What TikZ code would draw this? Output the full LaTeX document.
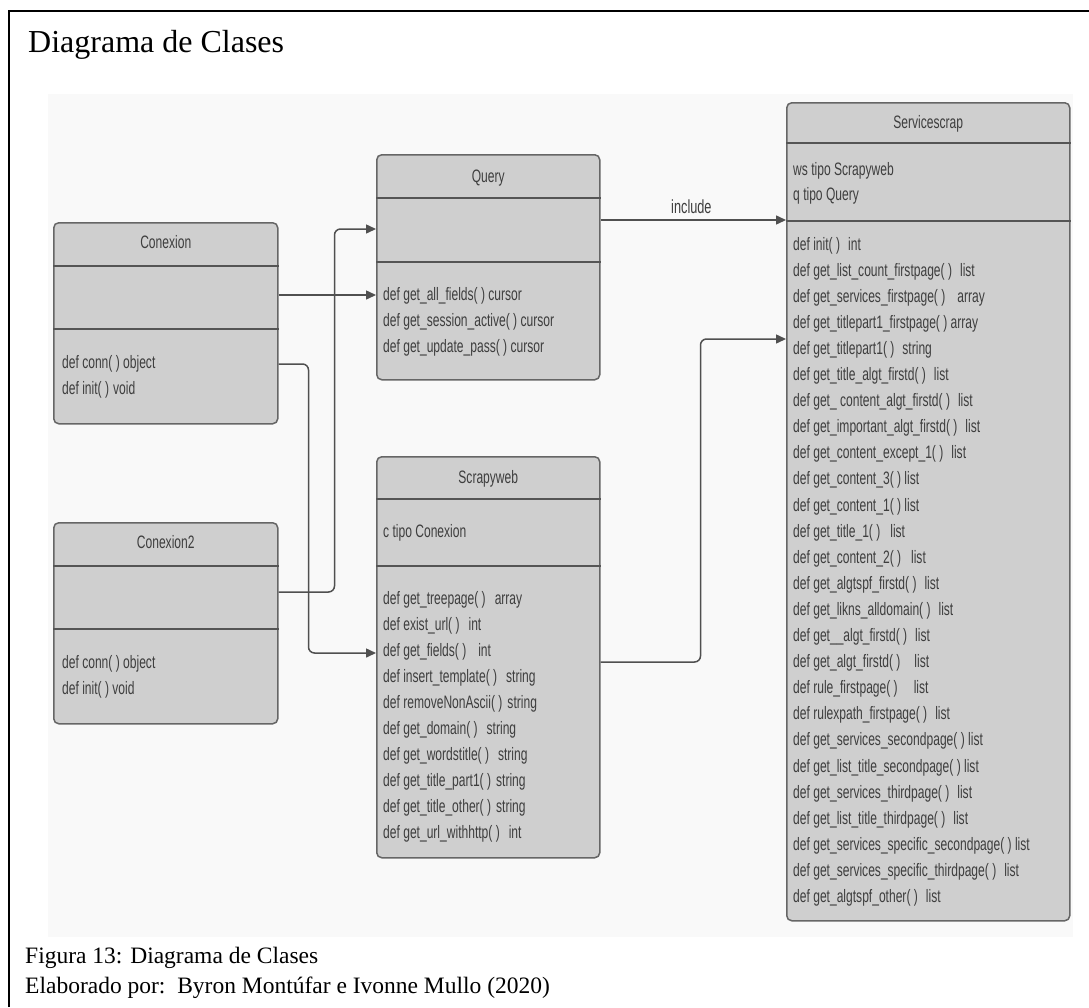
\documentclass[tikz,border=0pt]{standalone}
\usepackage{fontspec}
\setmainfont{Liberation Serif}
\newfontfamily\umlfont[FakeStretch=0.67]{Liberation Sans}
\usetikzlibrary{arrows.meta,calc}

\definecolor{boxfill}{HTML}{CFCFCF}
\definecolor{boxline}{HTML}{666666}
\definecolor{sepcol}{HTML}{555555}
\definecolor{txtcol}{HTML}{3E3E3E}
\definecolor{linkcol}{HTML}{505050}
\definecolor{panel}{HTML}{F9F9F9}

\newcommand\hg[1]{\hspace*{#1pt}}

\tikzset{
  classbox/.style={draw=boxline, fill=boxfill, line width=1.5pt, rounded corners=5pt,
    inner sep=0pt, anchor=north west},
  sepline/.style={draw=sepcol, line width=2pt},
  umlline/.style={font=\umlfont\fontsize{18}{22}\selectfont, text=txtcol, inner sep=0pt, anchor=base west},
  umltitle/.style={font=\umlfont\fontsize{18}{22}\selectfont, text=txtcol, inner sep=0pt, anchor=base},
  link/.style={draw=linkcol, line width=1.5pt, rounded corners=6pt,
    -{Triangle[length=10pt,width=9pt]}},
  linklabel/.style={font=\umlfont\fontsize{19}{22}\selectfont, text=txtcol, inner sep=0pt, anchor=base},
}

\begin{document}
\begin{tikzpicture}[x=1pt,y=-1pt]
\useasboundingbox (0,0) rectangle (1089,1007);

% page frame (open to the right and bottom)
\draw[line width=2pt] (9,1007) -- (9,10.5) -- (1089,10.5);
\node[anchor=base west, inner sep=0pt, font=\fontsize{32}{36}\selectfont] (heading) at (28,52) {Diagrama de Clases};

% diagram canvas
\fill[panel] (48,94) rectangle (1073,937);

% ---------- Conexion ----------
\node[classbox, minimum width=224, minimum height=201] (conexion) at (53,222) {};
\draw[sepline] ($(conexion.north west)+(0,44)$) -- ($(conexion.north east)+(0,44)$);
\draw[sepline] ($(conexion.north west)+(0,107)$) -- ($(conexion.north east)+(0,107)$);
\node[umltitle] (conexionT) at ($(conexion.north)+(0,26)$) {Conexion};
\node[umlline] (conexionM1) at ($(conexion.north west)+(9,146)$) {def conn( ) object};
\node[umlline] (conexionM2) at ($(conexion.north west)+(9,172)$) {def init( )\hg{4}void};

% ---------- Conexion2 ----------
\node[classbox, minimum width=224, minimum height=201] (conexiontwo) at (53,522) {};
\draw[sepline] ($(conexiontwo.north west)+(0,44)$) -- ($(conexiontwo.north east)+(0,44)$);
\draw[sepline] ($(conexiontwo.north west)+(0,107)$) -- ($(conexiontwo.north east)+(0,107)$);
\node[umltitle] (conexiontwoT) at ($(conexiontwo.north)+(0,26)$) {Conexion2};
\node[umlline] (conexiontwoM1) at ($(conexiontwo.north west)+(9,146)$) {def conn( ) object};
\node[umlline] (conexiontwoM2) at ($(conexiontwo.north west)+(9,172)$) {def init( ) void};

% ---------- Query ----------
\node[classbox, minimum width=223, minimum height=225] (query) at (376,154) {};
\draw[sepline] ($(query.north west)+(0,44)$) -- ($(query.north east)+(0,44)$);
\draw[sepline] ($(query.north west)+(0,108)$) -- ($(query.north east)+(0,108)$);
\node[umltitle] (queryT) at ($(query.north)+(0,28)$) {Query};
\foreach \t [count=\i from 0] in {
  def get\_all\_fields( ) cursor,
  def get\_session\_active( ) cursor,
  def get\_update\_pass( ) cursor}
  \node[umlline] (queryM\i) at ($(query.north west)+(7,146+26*\i)$) {\t};

% ---------- Scrapyweb ----------
\node[classbox, minimum width=223, minimum height=401] (scrapy) at (376,456) {};
\draw[sepline] ($(scrapy.north west)+(0,43)$) -- ($(scrapy.north east)+(0,43)$);
\draw[sepline] ($(scrapy.north west)+(0,110)$) -- ($(scrapy.north east)+(0,110)$);
\node[umltitle] (scrapyT) at ($(scrapy.north)+(0,27)$) {Scrapyweb};
\node[umlline] (scrapyA) at ($(scrapy.north west)+(7,81)$) {c tipo Conexion};
\foreach \t [count=\i from 0] in {
  def get\_treepage( )\hg{9}array,
  def exist\_url( )\hg{9}int,
  def get\_fields( )\hg{12}int,
  def insert\_template( )\hg{9}string,
  def removeNonAscii( )\hg{5}string,
  def get\_domain( )\hg{9}string,
  def get\_wordstitle( )\hg{9}string,
  def get\_title\_part1( )\hg{5}string,
  def get\_title\_other( )\hg{5}string,
  def get\_url\_withhttp( )\hg{9}int}
  \node[umlline] (scrapyM\i) at ($(scrapy.north west)+(7,148+26.1*\i)$) {\t};

% ---------- Servicescrap ----------
\node[classbox, minimum width=283, minimum height=818] (serv) at (786,102) {};
\draw[sepline] ($(serv.north west)+(0,41)$) -- ($(serv.north east)+(0,41)$);
\draw[sepline] ($(serv.north west)+(0,119)$) -- ($(serv.north east)+(0,119)$);
\node[umltitle] (servT) at ($(serv.north)+(0,26)$) {Servicescrap};
\node[umlline] (servA1) at ($(serv.north west)+(7,73)$) {ws tipo Scrapyweb};
\node[umlline] (servA2) at ($(serv.north west)+(7,98)$) {q tipo Query};
\foreach \t [count=\i from 0] in {
  def init( )\hg{8}int,
  def get\_list\_count\_firstpage( )\hg{8}list,
  def get\_services\_firstpage( )\hg{12}array,
  def get\_titlepart1\_firstpage( ) array,
  def get\_titlepart1( )\hg{8}string,
  def get\_title\_algt\_firstd( )\hg{8}list,
  def get\_ content\_algt\_firstd( )\hg{8}list,
  def get\_important\_algt\_firstd( )\hg{8}list,
  def get\_content\_except\_1( )\hg{8}list,
  def get\_content\_3( ) list,
  def get\_content\_1( ) list,
  def get\_title\_1( )\hg{10}list,
  def get\_content\_2( )\hg{10}list,
  def get\_algtspf\_firstd( )\hg{8}list,
  def get\_likns\_alldomain( )\hg{8}list,
  def get\_\_algt\_firstd( )\hg{8}list,
  def get\_algt\_firstd( )\hg{14}list,
  def rule\_firstpage( )\hg{16}list,
  def rulexpath\_firstpage( )\hg{8}list,
  def get\_services\_secondpage( ) list,
  def get\_list\_title\_secondpage( ) list,
  def get\_services\_thirdpage( )\hg{8}list,
  def get\_list\_title\_thirdpage( )\hg{8}list,
  def get\_services\_specific\_secondpage( ) list,
  def get\_services\_specific\_thirdpage( )\hg{8}list,
  def get\_algtspf\_other( )\hg{8}list}
  \node[umlline] (servM\i) at ($(serv.north west)+(7,148+26.1*\i)$) {\t};

% ---------- connection ports ----------
\coordinate (conexionOutA) at ($(conexion.north east)+(0,73)$);
\coordinate (conexionOutB) at ($(conexion.north east)+(0,142)$);
\coordinate (conexiontwoOut) at ($(conexiontwo.north east)+(0,70)$);
\coordinate (queryInA) at ($(query.north west)+(0,75)$);
\coordinate (queryOut) at ($(query.north east)+(0,66)$);
\coordinate (scrapyIn) at ($(scrapy.north west)+(0,197)$);
\coordinate (scrapyOut) at ($(scrapy.north east)+(0,206)$);
\coordinate (servInA) at ($(serv.north west)+(0,118)$);
\coordinate (servInB) at ($(serv.north west)+(0,237)$);

% ---------- associations ----------
\draw[link] (conexionOutA) -- (conexionOutA -| query.west);
\draw[link] (conexionOutB) -- ++(30,0) |- (scrapyIn);
\draw[link] (conexiontwoOut) -- ++(56,0) |- (queryInA);
\draw[link] (queryOut) -- (servInA)
  node[linklabel, pos=0.49, yshift=7pt] (includeLbl) {include};
\draw[link] (scrapyOut) -- ++(100,0) |- (servInB);

% ---------- caption ----------
\node[anchor=base west, inner sep=0pt, font=\fontsize{23.5}{28}\selectfont] (caption) at (25,963) {Figura 13: Diagrama de Clases};
\node[anchor=base west, inner sep=0pt, font=\fontsize{23.5}{28}\selectfont] (credits) at (25,993) {Elaborado por:\ \ Byron Montúfar e Ivonne Mullo (2020)};
\end{tikzpicture}
\end{document}
